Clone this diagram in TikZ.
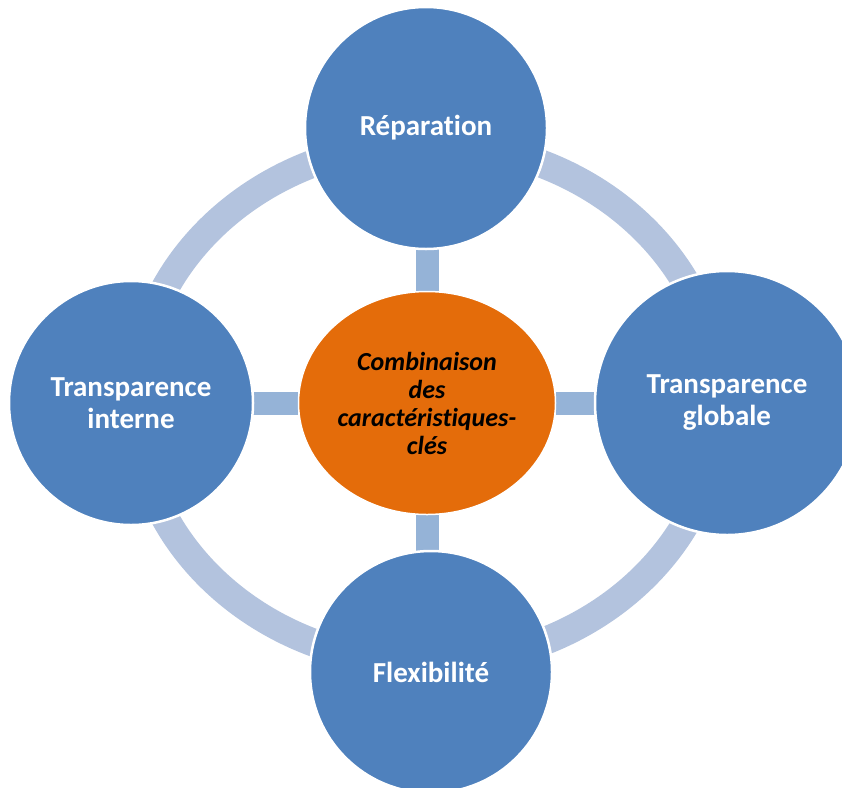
\documentclass[tikz,border=0pt]{standalone}
\usepackage{fontspec}
\setmainfont{Carlito}[Ligatures=NoCommon]
\usetikzlibrary{shapes.geometric,backgrounds}
\definecolor{nodeblue}{RGB}{79,129,189}
\definecolor{ringblue}{RGB}{179,195,222}
\definecolor{connblue}{RGB}{149,179,215}
\definecolor{hubor}{RGB}{228,108,10}
\tikzset{
  outer/.style={circle,fill=nodeblue,draw=white,line width=2.5pt,inner sep=0pt,
    text=white,align=center,font=\bfseries\fontsize{29}{32}\selectfont},
  hub/.style={ellipse,fill=hubor,draw=white,line width=1.5pt,inner sep=0pt,
    minimum width=257pt,minimum height=223pt,text=black,align=center,
    font=\bfseries\itshape\fontsize{26}{28}\selectfont},
  ringband/.style={draw=ringblue,line width=28pt},
  conn/.style={draw=connblue,line width=23pt}
}
\begin{document}
\begin{tikzpicture}[x=1pt,y=-1pt]
\useasboundingbox (0,0) rectangle (842,787);
\node[hub] (hub) at (427,403) {Combinaison\\des\\caractéristiques-\\clés};
\node[outer,minimum size=242pt] (top) at (426,128) {Réparation};
\node[outer,minimum size=244pt] (left) at (131,403) {Transparence\\interne};
\node[outer,minimum size=264pt] (right) at (727,403) {Transparence\\globale};
\node[outer,minimum size=242pt] (bottom) at (431,672) {Flexibilité};
\begin{scope}[on background layer]
  \draw[ringband] (hub.center) ellipse [x radius=292pt, y radius=260pt];
  \draw[conn] (hub.north) -- (hub.north |- top.center);
  \draw[conn] (hub.south) -- (hub.south |- bottom.center);
  \draw[conn] (hub.west) -- (hub.west -| left.center);
  \draw[conn] (hub.east) -- (hub.east -| right.center);
\end{scope}
\end{tikzpicture}
\end{document}
